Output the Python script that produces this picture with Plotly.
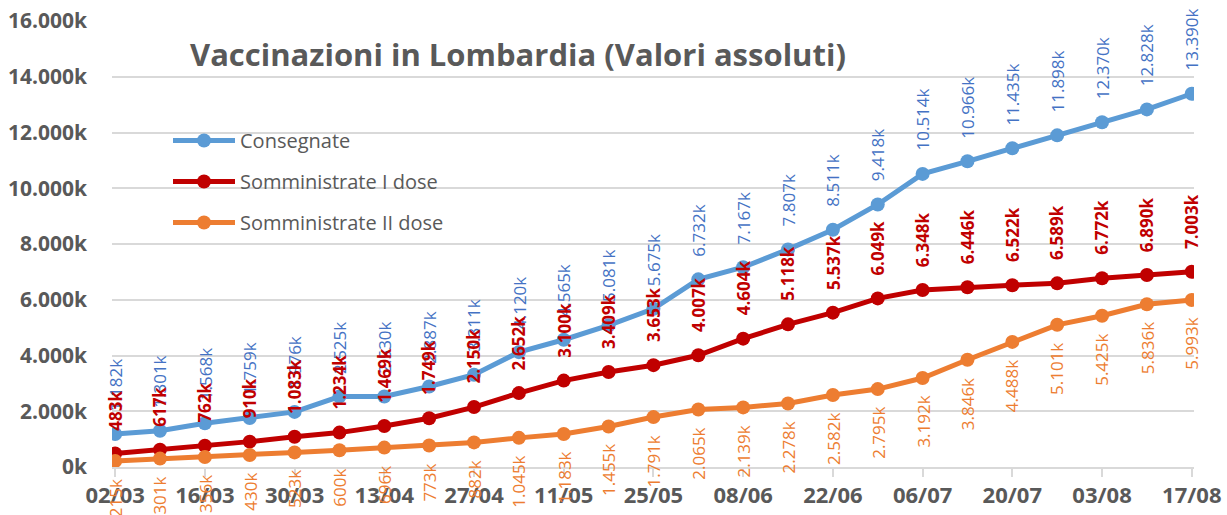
import plotly.graph_objects as go

# Weekly survey dates (2021)
dates = ["02/03", "09/03", "16/03", "23/03", "30/03", "06/04", "13/04", "20/04",
         "27/04", "04/05", "11/05", "18/05", "25/05", "01/06", "08/06", "15/06",
         "22/06", "29/06", "06/07", "13/07", "20/07", "27/07", "03/08", "10/08",
         "17/08"]

# Cumulative doses, thousands
consegnate = [1182, 1301, 1568, 1759, 1976, 2525, 2530, 2887, 3311, 4120, 4565,
              5081, 5675, 6732, 7167, 7807, 8511, 9418, 10514, 10966, 11435,
              11898, 12370, 12828, 13390]
prima_dose = [483, 617, 762, 910, 1083, 1234, 1469, 1749, 2150, 2652, 3100,
              3409, 3653, 4007, 4604, 5118, 5537, 6049, 6348, 6446, 6522,
              6589, 6772, 6890, 7003]
seconda_dose = [215, 301, 356, 430, 523, 600, 696, 773, 882, 1045, 1183,
                1455, 1791, 2065, 2139, 2278, 2582, 2795, 3192, 3846, 4488,
                5101, 5425, 5836, 5993]

y_ticks = [0, 2000, 4000, 6000, 8000, 10000, 12000, 14000, 16000]
x_ticks = dates[::2]


def fmt_k(v):
    return f"{v:,}".replace(",", ".") + "k"


# name, values, line colour, label colour, bold label, label offset (px)
series = [
    ("Consegnate", consegnate, "#5B9BD5", "#4472C4", False, 21),
    ("Somministrate I dose", prima_dose, "#C00000", "#C00000", True, 21),
    ("Somministrate II dose", seconda_dose, "#ED7D31", "#ED7D31", False, -16),
]

FONT = "Open Sans, sans-serif"
GREY = "#595959"

fig = go.Figure()
annotations = []
for name, vals, line_col, text_col, bold, offset in series:
    fig.add_trace(go.Scatter(
        x=dates, y=vals, name=name, legendgroup=name,
        mode="lines+markers",
        line=dict(color=line_col, width=5),
        marker=dict(color=line_col, size=14),
    ))
    for d, v in zip(dates, vals):
        annotations.append(dict(
            x=d, y=v, xref="x", yref="y",
            text=f"<b>{fmt_k(v)}</b>" if bold else fmt_k(v),
            textangle=-90, showarrow=False,
            xanchor="center",
            yanchor="bottom" if offset > 0 else "top",
            yshift=offset,
            font=dict(family=FONT, size=17, color=text_col),
        ))

fig.update_layout(
    width=1227, height=515,
    margin=dict(l=112, r=33, t=21, b=48, autoexpand=False),
    paper_bgcolor="white", plot_bgcolor="white",
    font=dict(family=FONT, color=GREY),
    title=dict(
        text="<b>Vaccinazioni in Lombardia (Valori assoluti)</b>",
        x=190 / 1227, xanchor="left", xref="container",
        y=1 - 55 / 515, yanchor="middle", yref="container",
        font=dict(family=FONT, size=31, color=GREY),
    ),
    legend=dict(
        x=(168 - 112) / 1082, y=(467 - 121) / 446,
        xanchor="left", yanchor="top",
        bgcolor="rgba(0,0,0,0)",
        font=dict(family=FONT, size=20, color=GREY),
        traceorder="grouped", tracegroupgap=12,
        itemwidth=62,
    ),
    annotations=annotations,
    xaxis=dict(
        type="category", range=[-0.07, 24.05], automargin=False,
        tickmode="array", tickvals=x_ticks, ticktext=x_ticks,
        showgrid=False, showline=True, linecolor="#D9D9D9", linewidth=2,
        ticks="outside", ticklen=8, tickcolor="#D9D9D9", tickwidth=2,
        tickfont=dict(family=FONT, size=22, color=GREY, weight="bold"),
        zeroline=False,
    ),
    yaxis=dict(
        range=[0, 16000], automargin=False,
        tickmode="array", tickvals=y_ticks,
        ticktext=[fmt_k(v) for v in y_ticks],
        showgrid=True, gridcolor="#D9D9D9", gridwidth=2,
        zeroline=False, showline=False,
        tickfont=dict(family=FONT, size=21, color=GREY, weight="bold"),
        ticks="", ticklabelstandoff=24,
    ),
    showlegend=True,
)

fig.write_html("out.html")
